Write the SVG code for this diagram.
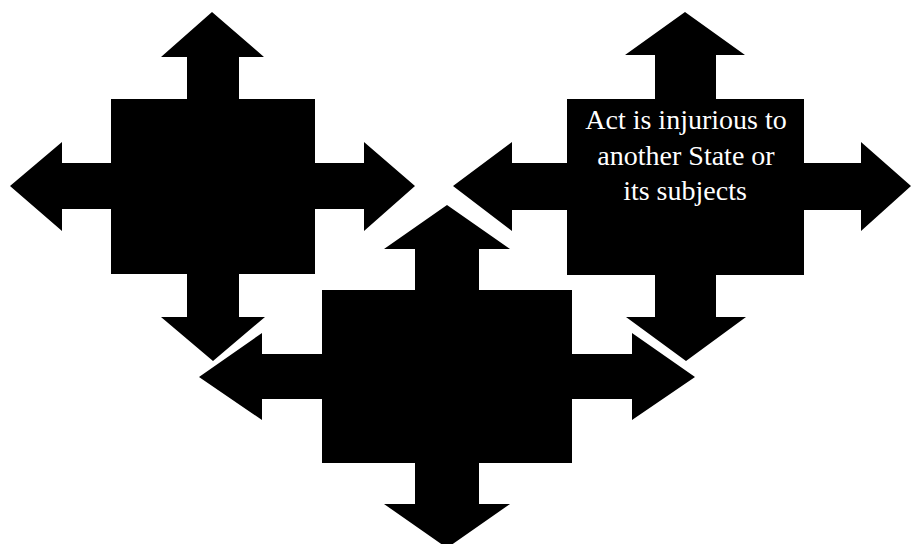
<svg xmlns="http://www.w3.org/2000/svg" width="912" height="544" viewBox="0 0 912 544">
  <style>
    .shape { fill: #000; stroke: #fff; stroke-width: 5; stroke-linejoin: miter; paint-order: stroke; }
    .label { fill: #fff; font-family: "Liberation Serif", "Times New Roman", serif; font-size: 28px; text-anchor: middle; }
  </style>
  <rect x="0" y="0" width="912" height="544" fill="#fff"/>
  <g id="node-middle">
    <path class="shape" d="M447,205 L510,249 L479,249 L479,290 L572,290 L572,354 L632,354 L632,333 L695,377 L632,420 L632,399 L572,399 L572,463 L479,463 L479,504 L510,504 L447,548 L384,504 L415,504 L415,463 L322,463 L322,399 L262,399 L262,420 L199,377 L262,333 L262,354 L322,354 L322,290 L415,290 L415,249 L384,249 Z"/>
  </g>
  <g id="node-left">
    <path class="shape" d="M212,12 L264,57 L239,57 L239,99 L315,99 L315,163 L364,163 L364,142 L415,186 L364,231 L364,209 L315,209 L315,274 L239,274 L239,317 L265,317 L213,361 L161,317 L187,317 L187,274 L111,274 L111,209 L62,209 L62,231 L10,186 L62,142 L62,163 L111,163 L111,99 L187,99 L187,57 L161,57 Z"/>
  </g>
  <g id="node-right">
    <path class="shape" d="M685,12 L745,55 L716,55 L716,99 L804,99 L804,163 L861,163 L861,142 L911,186 L861,231 L861,210 L804,210 L804,275 L716,275 L716,317 L746,317 L686,361 L626,317 L655,317 L655,275 L567,275 L567,210 L512,210 L512,231 L453,186 L512,142 L512,163 L567,163 L567,99 L655,99 L655,55 L625,55 Z"/>
    <text class="label" x="686" y="129">Act is injurious to</text>
    <text class="label" x="686" y="165">another State or</text>
    <text class="label" x="685" y="200">its subjects</text>
  </g>
  <g id="connectors"/>
</svg>
